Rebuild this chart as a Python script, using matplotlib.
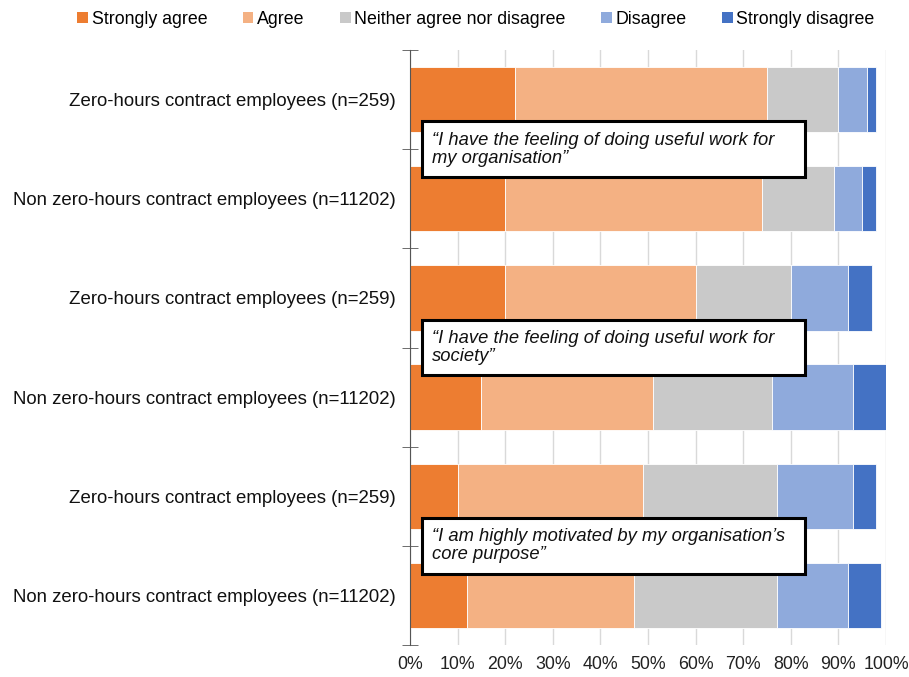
import numpy as np
import matplotlib.pyplot as plt
from matplotlib.patches import Rectangle, Patch

plt.rcParams['font.family'] = ['Liberation Sans', 'DejaVu Sans']

# Data (percent of respondents)
groups = [
    "Zero-hours contract employees (n=259)",
    "Non zero-hours contract employees (n=11202)",
    "Zero-hours contract employees (n=259)",
    "Non zero-hours contract employees (n=11202)",
    "Zero-hours contract employees (n=259)",
    "Non zero-hours contract employees (n=11202)",
]
responses = ["Strongly agree", "Agree", "Neither agree nor disagree",
             "Disagree", "Strongly disagree"]
strongly_agree = [22, 20, 20, 15, 10, 12]
agree = [53, 54, 40, 36, 39, 35]
neither = [15, 15, 20, 25, 28, 30]
disagree = [6, 6, 12, 17, 16, 15]
strongly_disagree = [2, 3, 5, 7, 5, 7]
statements = [
    "\u201cI have the feeling of doing useful work for\nmy organisation\u201d",
    "\u201cI have the feeling of doing useful work for\nsociety\u201d",
    "\u201cI am highly motivated by my organisation\u2019s\ncore purpose\u201d",
]

colors = ["#ED7D31", "#F4B183", "#C9C9C9", "#8FAADC", "#4472C4"]
series = [strongly_agree, agree, neither, disagree, strongly_disagree]

fig = plt.figure(figsize=(9.09, 6.77), dpi=100)
ax = fig.add_axes([410 / 909, 1 - 645 / 677, 476 / 909, 595 / 677])

y = np.arange(len(groups))
left = np.zeros(len(groups))
for vals, col, lab in zip(series, colors, responses):
    ax.barh(y, vals, left=left, height=0.66, color=col, edgecolor="white",
            linewidth=0.6, label=lab, zorder=2)
    left += np.array(vals)

ax.set_xlim(0, 100)
ax.set_ylim(len(groups) - 0.5, -0.5)
ax.set_xticks(np.arange(0, 101, 10))
ax.set_xticklabels([f"{v}%" for v in range(0, 101, 10)], fontsize=12.8, color="#222222")
ax.xaxis.grid(True, color="#D9D9D9", linewidth=1, zorder=0)
ax.set_axisbelow(True)
ax.tick_params(axis="x", length=0, pad=8)

ax.set_yticks(y)
ax.set_yticklabels(groups, fontsize=13.4, color="#111111")
ax.set_yticks(np.arange(-0.5, len(groups)), minor=True)
ax.tick_params(axis="y", which="major", length=0, pad=10)
ax.tick_params(axis="y", which="minor", length=12, direction="inout", color="#555555")

for s in ["top", "right", "bottom"]:
    ax.spines[s].set_visible(False)
ax.spines["left"].set_color("#555555")

# statement boxes between each pair of bars
for i, txt in enumerate(statements):
    yc = 2 * i + 0.5
    ax.add_patch(Rectangle((2.6, yc - 0.28), 80.4, 0.56, facecolor="white",
                           edgecolor="black", linewidth=2.2, zorder=5))
    ax.text(4.7, yc, txt, fontsize=13.2, style="italic", va="center",
            ha="left", linespacing=1.1, zorder=6, color="#111111")

handles = [Patch(facecolor=c, label=l) for c, l in zip(colors, responses)]
fig.legend(handles=handles, loc="center", bbox_to_anchor=(476 / 909, 1 - 19 / 677),
           ncol=5, frameon=False, fontsize=12.8, handlelength=0.6, handleheight=0.6,
           handletextpad=0.2, columnspacing=2.0)

fig.savefig("out.png", dpi=100)
